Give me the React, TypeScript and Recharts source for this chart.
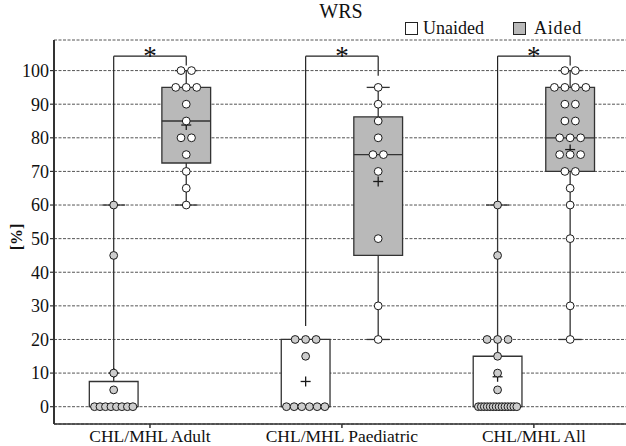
import React from 'react';
import {
  ComposedChart,
  XAxis,
  YAxis,
  CartesianGrid,
  Scatter,
  ReferenceArea,
  ReferenceLine,
} from 'recharts';

// ---------- data ----------
const categories = ['CHL/MHL Adult', 'CHL/MHL Paediatric', 'CHL/MHL All'];
const yTicks = [0, 10, 20, 30, 40, 50, 60, 70, 80, 90, 100];

const adultUnaided = [0, 0, 0, 0, 0, 0, 0, 0, 5, 10, 45, 60];
const adultAided = [60, 65, 70, 75, 80, 80, 85, 90, 95, 95, 95, 100, 100];
const paedUnaided = [0, 0, 0, 0, 0, 0, 15, 20, 20, 20];
const paedAided = [20, 30, 50, 70, 75, 75, 80, 85, 90, 95];
const allUnaided = [0, 0, 0, 0, 0, 0, 0, 0, 0, 0, 0, 0, 0, 0, 5, 10, 15, 20, 20, 20, 45, 60];
const allAided = [20, 30, 50, 60, 65, 70, 70, 75, 75, 75, 80, 80, 80, 85, 85, 90, 90, 95, 95, 95, 95, 100, 100];

const unaidedQ1 = [0, 0, 0];
const unaidedMedian = [0, 0, 0];
const unaidedQ3 = [7.5, 20, 15];
const unaidedLow = [0, 0, 0];
const unaidedHigh = [60, 20, 60];
const unaidedMean = [10, 7.5, 8.9];

const aidedQ1 = [72.5, 45, 70];
const aidedMedian = [85, 75, 80];
const aidedQ3 = [95, 86.25, 95];
const aidedLow = [60, 20, 20];
const aidedHigh = [100, 95, 100];
const aidedMean = [83.8, 67, 76.5];

const bracketTop = [104.3, 104.3, 104.3];
const bracketLeftFrom = [60, 24, 60];
const bracketRightFrom = [101.5, 98.5, 101.5];
const sigLabels = ['*', '*', '*'];
const sigLabelY = [101.8, 101.8, 101.8];

// ---------- layout (data space of x axis) ----------
const X_DOMAIN: [number, number] = [0, 2.98];
const Y_DOMAIN: [number, number] = [-5.15, 109.1];
const OFFSET = 0.189;
const HALF_BOX = 0.127;
const HALF_CAP = 0.06;
const DOT_STEP = 0.0547;
const MAX_SPAN = 0.2;

const FONT = "'Liberation Serif', 'Times New Roman', serif";
const AIDED_FILL = '#b9b9b9';
const UNAIDED_DOT = '#cdcdcd';
const LINE = '#333333';

const unaidedSets = [adultUnaided, paedUnaided, allUnaided];
const aidedSets = [adultAided, paedAided, allAided];

function swarm(values: number[], cx: number) {
  const counts = new Map<number, number>();
  values.forEach((v) => counts.set(v, (counts.get(v) ?? 0) + 1));
  const out: { x: number; y: number }[] = [];
  counts.forEach((n, v) => {
    const step = n > 1 ? Math.min(DOT_STEP, MAX_SPAN / (n - 1)) : 0;
    for (let k = 0; k < n; k++) out.push({ x: cx + (k - (n - 1) / 2) * step, y: v });
  });
  return out;
}

const center = (i: number) => i + 0.5;

const unaidedDots = unaidedSets.flatMap((vals, i) => swarm(vals, center(i) - OFFSET));
const aidedDots = aidedSets.flatMap((vals, i) => swarm(vals, center(i) + OFFSET));
const unaidedMeans = unaidedMean.map((m, i) => ({ x: center(i) - OFFSET, y: m }));
const aidedMeans = aidedMean.map((m, i) => ({ x: center(i) + OFFSET, y: m }));
const sigData = sigLabels.map((s, i) => ({ x: center(i), y: sigLabelY[i], label: s }));

type Box = { cx: number; q1: number; med: number; q3: number; lo: number; hi: number; fill: string };
const boxes: Box[] = [
  ...categories.map((_, i) => ({
    cx: center(i) - OFFSET,
    q1: unaidedQ1[i],
    med: unaidedMedian[i],
    q3: unaidedQ3[i],
    lo: unaidedLow[i],
    hi: unaidedHigh[i],
    fill: '#ffffff',
  })),
  ...categories.map((_, i) => ({
    cx: center(i) + OFFSET,
    q1: aidedQ1[i],
    med: aidedMedian[i],
    q3: aidedQ3[i],
    lo: aidedLow[i],
    hi: aidedHigh[i],
    fill: AIDED_FILL,
  })),
];

const DotShape = (fill: string) => (props: any) => {
  const { cx, cy } = props;
  if (cx == null || cy == null) return <g />;
  return <circle cx={cx} cy={cy} r={3.9} fill={fill} stroke="#1a1a1a" strokeWidth={1} />;
};

const PlusShape = (props: any) => {
  const { cx, cy } = props;
  if (cx == null || cy == null) return <g />;
  return (
    <g stroke="#1a1a1a" strokeWidth={1.3}>
      <line x1={cx - 5} y1={cy} x2={cx + 5} y2={cy} />
      <line x1={cx} y1={cy - 5} x2={cx} y2={cy + 5} />
    </g>
  );
};

const StarShape = (props: any) => {
  const { cx, cy, payload } = props;
  if (cx == null || cy == null) return <g />;
  return (
    <g>
      <text
        x={cx}
        y={cy}
        textAnchor="middle"
        style={{ fill: '#111111', stroke: 'none', fontFamily: FONT, fontSize: 27 }}
      >
        {payload.label}
      </text>
    </g>
  );
};

export default function App() {
  return (
    <div
      style={{
        position: 'absolute',
        left: 0,
        top: 0,
        width: 626,
        height: 446,
        background: '#fff',
        fontFamily: FONT,
      }}
    >
      <ComposedChart
        width={626}
        height={446}
        margin={{ top: 40, right: 0, bottom: 0, left: 0 }}
        style={{ fontFamily: FONT }}
      >
        <CartesianGrid
          horizontal
          vertical={false}
          stroke="#555"
          strokeDasharray="3 1.5"
          strokeWidth={1}
        />
        <XAxis
          type="number"
          dataKey="x"
          domain={X_DOMAIN}
          allowDataOverflow
          ticks={[0.5, 1.5, 2.5]}
          tickFormatter={(v: number) => categories[Math.floor(v)] ?? ''}
          height={22}
          tickSize={4}
          tickMargin={2}
          interval={0}
          axisLine={{ stroke: LINE, strokeWidth: 1.5 }}
          tickLine={{ stroke: LINE, strokeWidth: 1.5 }}
          tick={{ fill: '#111', fontSize: 17.5, fontFamily: FONT, style: { fontFamily: FONT } }}
        />
        <XAxis
          xAxisId="top"
          orientation="top"
          type="number"
          domain={X_DOMAIN}
          allowDataOverflow
          height={0}
          tick={false}
          tickLine={false}
          axisLine={{ stroke: LINE, strokeWidth: 2 }}
        />
        <YAxis
          type="number"
          domain={Y_DOMAIN}
          allowDataOverflow
          ticks={yTicks}
          interval={0}
          width={54}
          tickSize={4}
          tickMargin={1}
          axisLine={{ stroke: LINE, strokeWidth: 2 }}
          tickLine={{ stroke: LINE, strokeWidth: 1.2 }}
          tick={{ fill: '#111', fontSize: 18, fontFamily: FONT, style: { fontFamily: FONT } }}
          label={(p: any) => {
            const vb = p.viewBox || {};
            const x = (vb.x ?? 0) + 22;
            const y = (vb.y ?? 40) + (vb.height ?? 384) / 2 + 5;
            return (
              <text
                x={x}
                y={y}
                transform={`rotate(-90 ${x} ${y})`}
                textAnchor="middle"
                style={{ fontFamily: FONT, fontWeight: 'bold', fontSize: 16, fill: '#111' }}
              >
                [%]
              </text>
            );
          }}
        />

        {boxes.map((b, k) => (
          <ReferenceLine
            key={`wu${k}`}
            segment={[{ x: b.cx, y: b.q3 }, { x: b.cx, y: b.hi }]}
            stroke={LINE}
            strokeWidth={1.3}
          />
        ))}
        {boxes.map((b, k) => (
          <ReferenceLine
            key={`wl${k}`}
            segment={[{ x: b.cx, y: b.lo }, { x: b.cx, y: b.q1 }]}
            stroke={LINE}
            strokeWidth={1.3}
          />
        ))}
        {boxes
          .filter((b) => b.hi > b.q3)
          .map((b, k) => (
            <ReferenceLine
              key={`ch${k}`}
              segment={[{ x: b.cx - HALF_CAP, y: b.hi }, { x: b.cx + HALF_CAP, y: b.hi }]}
              stroke={LINE}
              strokeWidth={1.3}
            />
          ))}
        {boxes
          .filter((b) => b.lo < b.q1)
          .map((b, k) => (
            <ReferenceLine
              key={`cl${k}`}
              segment={[{ x: b.cx - HALF_CAP, y: b.lo }, { x: b.cx + HALF_CAP, y: b.lo }]}
              stroke={LINE}
              strokeWidth={1.3}
            />
          ))}
        {boxes.map((b, k) => (
          <ReferenceArea
            key={`bx${k}`}
            x1={b.cx - HALF_BOX}
            x2={b.cx + HALF_BOX}
            y1={b.q1}
            y2={b.q3}
            fill={b.fill}
            fillOpacity={1}
            stroke={LINE}
            strokeWidth={1.3}
          />
        ))}
        {boxes.map((b, k) => (
          <ReferenceLine
            key={`md${k}`}
            segment={[{ x: b.cx - HALF_BOX, y: b.med }, { x: b.cx + HALF_BOX, y: b.med }]}
            stroke={LINE}
            strokeWidth={1.3}
          />
        ))}

        {categories.map((_, i) => (
          <ReferenceLine
            key={`bl${i}`}
            segment={[{ x: center(i) - OFFSET, y: bracketLeftFrom[i] }, { x: center(i) - OFFSET, y: bracketTop[i] }]}
            stroke="#222"
            strokeWidth={1.2}
          />
        ))}
        {categories.map((_, i) => (
          <ReferenceLine
            key={`bt${i}`}
            segment={[{ x: center(i) - OFFSET, y: bracketTop[i] }, { x: center(i) + OFFSET, y: bracketTop[i] }]}
            stroke="#222"
            strokeWidth={1.2}
          />
        ))}
        {categories.map((_, i) => (
          <ReferenceLine
            key={`br${i}`}
            segment={[{ x: center(i) + OFFSET, y: bracketRightFrom[i] }, { x: center(i) + OFFSET, y: bracketTop[i] }]}
            stroke="#222"
            strokeWidth={1.2}
          />
        ))}

        <Scatter data={unaidedMeans} dataKey="y" shape={PlusShape} isAnimationActive={false} />
        <Scatter data={aidedMeans} dataKey="y" shape={PlusShape} isAnimationActive={false} />
        <Scatter data={unaidedDots} dataKey="y" shape={DotShape(UNAIDED_DOT)} isAnimationActive={false} />
        <Scatter data={aidedDots} dataKey="y" shape={DotShape('#ffffff')} isAnimationActive={false} />
        <Scatter data={sigData} dataKey="y" shape={StarShape} fill="#111111" isAnimationActive={false} />
      </ComposedChart>

      <div
        style={{
          position: 'absolute',
          left: 341,
          top: 1,
          transform: 'translateX(-50%)',
          fontFamily: FONT,
          fontSize: 20,
          color: '#111',
          lineHeight: '20px',
          whiteSpace: 'nowrap',
        }}
      >
        WRS
      </div>
      <div
        style={{
          position: 'absolute',
          left: 405,
          top: 18,
          display: 'flex',
          alignItems: 'center',
          fontFamily: FONT,
          fontSize: 18,
          color: '#111',
          lineHeight: '20px',
          whiteSpace: 'nowrap',
        }}
      >
        <span style={{ width: 11, height: 11, border: '1px solid #222', background: '#fff', display: 'inline-block' }} />
        <span style={{ marginLeft: 5 }}>Unaided</span>
        <span
          style={{
            width: 11,
            height: 11,
            border: '1px solid #222',
            background: AIDED_FILL,
            display: 'inline-block',
            marginLeft: 29,
          }}
        />
        <span style={{ marginLeft: 8, letterSpacing: 0.8 }}>Aided</span>
      </div>
    </div>
  );
}
